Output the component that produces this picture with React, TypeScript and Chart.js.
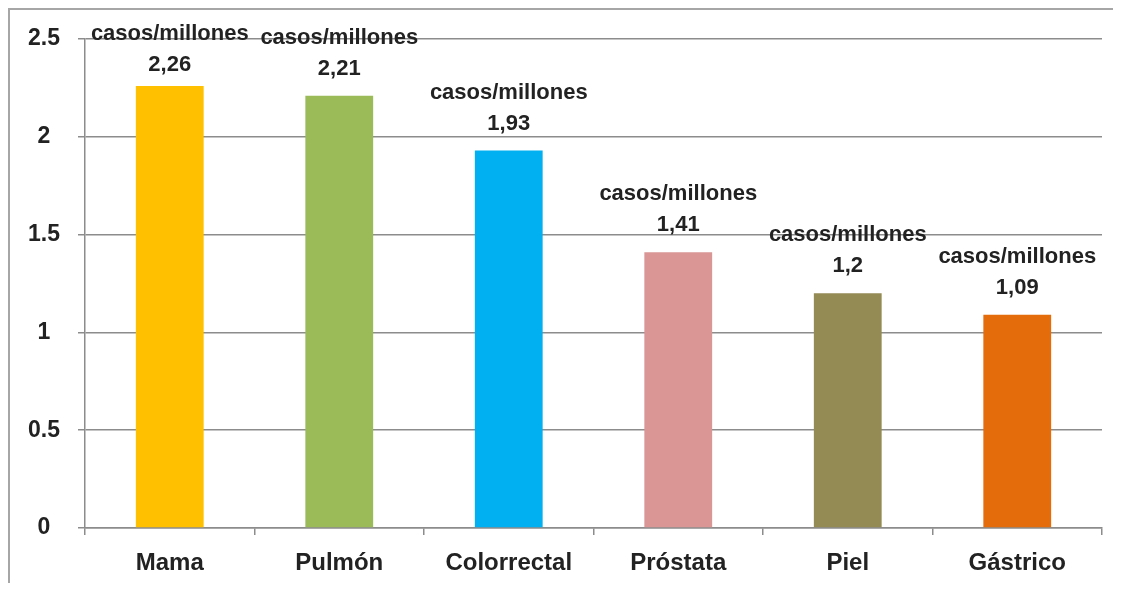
import React, { useEffect, useRef } from "react";
import { Chart, registerables } from "chart.js";

Chart.register(...registerables);

const categories = ["Mama", "Pulmón", "Colorrectal", "Próstata", "Piel", "Gástrico"];
const values = [2.26, 2.21, 1.93, 1.41, 1.2, 1.09];
const valueLabels = ["2,26", "2,21", "1,93", "1,41", "1,2", "1,09"];
const unitLabel = "casos/millones";
const barColors = ["#FFC000", "#9BBB59", "#00B0F0", "#D99694", "#948A54", "#E46C0A"];
const yTicks = [0, 0.5, 1, 1.5, 2, 2.5];

const FONT = "'Liberation Sans', Arial, sans-serif";

const labelPlugin = {
  id: "barLabels",
  afterDatasetsDraw(chart: any) {
    const ctx = chart.ctx;
    const meta = chart.getDatasetMeta(0);
    ctx.save();
    ctx.fillStyle = "#222";
    ctx.textAlign = "center";
    ctx.textBaseline = "middle";
    ctx.font = `bold 22px ${FONT}`;
    meta.data.forEach((bar: any, i: number) => {
      const unitY = Math.max(bar.y - 58, 24);
      const valY = Math.max(bar.y - 27, unitY + 31);
      ctx.fillText(unitLabel, bar.x, unitY);
      ctx.fillText(valueLabels[i], bar.x, valY);
    });
    ctx.restore();
  },
};

export default function App() {
  const ref = useRef<HTMLCanvasElement | null>(null);
  useEffect(() => {
    if (!ref.current) return;
    const chart = new Chart(ref.current, {
      type: "bar",
      data: {
        labels: categories,
        datasets: [
          {
            data: values,
            backgroundColor: barColors,
            borderWidth: 0,
            barPercentage: 0.4,
            categoryPercentage: 1,
          },
        ],
      },
      options: {
        animation: false,
        responsive: true,
        maintainAspectRatio: false,
        layout: { padding: { top: 29, right: 11, left: 0, bottom: 0 } },
        plugins: { legend: { display: false }, tooltip: { enabled: false } },
        scales: {
          x: {
            grid: {
              offset: true,
              drawOnChartArea: false,
              drawTicks: true,
              tickLength: 7,
              color: "#8c8c8c",
              lineWidth: 1.5,
            },
            border: { display: true, color: "#8c8c8c", width: 1.5 },
            ticks: {
              color: "#222",
              font: { family: FONT, size: 24, weight: "bold" },
              padding: 14,
            },
            afterFit: (s: any) => {
              s.height = 55;
              s.paddingLeft = 0;
              s.paddingRight = 0;
            },
          },
          y: {
            min: 0,
            max: 2.5,
            afterBuildTicks: (s: any) => {
              s.ticks = yTicks.map((v) => ({ value: v }));
            },
            grid: {
              color: "#8c8c8c",
              lineWidth: 1.5,
              drawTicks: true,
              tickLength: 7,
            },
            border: { display: true, color: "#8c8c8c", width: 1.5 },
            ticks: {
              color: "#222",
              font: { family: FONT, size: 23, weight: "bold" },
              crossAlign: "center",
              padding: 18,
              callback: (v: any) => String(v),
            },
            afterFit: (s: any) => {
              s.width = 75;
              s.paddingTop = 0;
              s.paddingBottom = 0;
            },
          },
        },
      },
      plugins: [labelPlugin],
    });
    return () => chart.destroy();
  }, []);
  return (
    <div
      style={{
        width: 1103,
        height: 573,
        borderTop: "2px solid #a6a6a6",
        borderLeft: "2px solid #a6a6a6",
        position: "relative",
        background: "#fff",
      }}
    >
      <canvas ref={ref} />
    </div>
  );
}
